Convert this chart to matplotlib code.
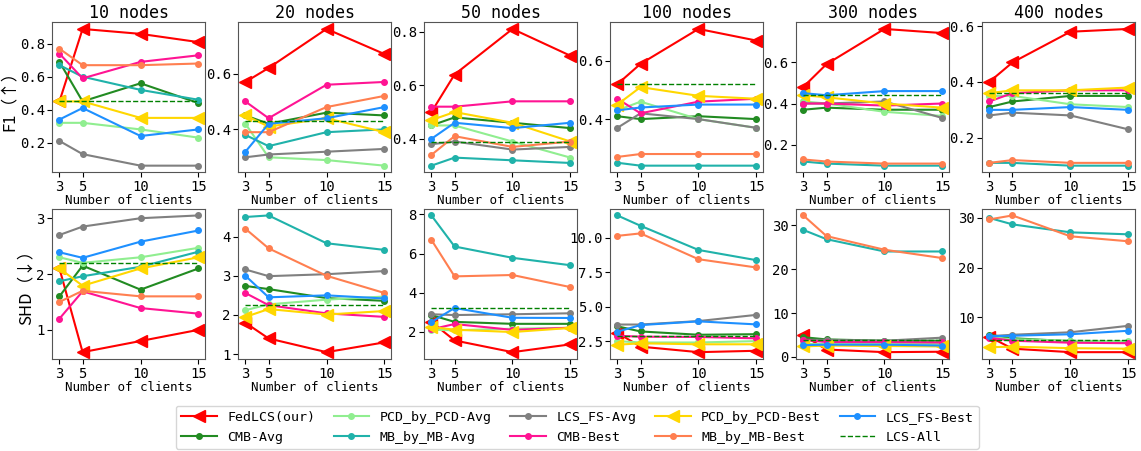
import matplotlib
matplotlib.use("Agg")
import matplotlib.pyplot as plt
from matplotlib.ticker import MultipleLocator

plt.rcParams['font.family'] = ['DejaVu Sans Mono', 'Noto Sans CJK SC']
plt.rcParams['axes.unicode_minus'] = False

clients = [3, 5, 10, 15]
nodes = ['10 nodes', '20 nodes', '50 nodes', '100 nodes', '300 nodes', '400 nodes']

# F1 values, one list per panel (10, 20, 50, 100, 300, 400 nodes)
f1_fedlcs = [[0.45, 0.89, 0.86, 0.81], [0.57, 0.62, 0.76, 0.67], [0.50, 0.64, 0.81, 0.71],
             [0.52, 0.59, 0.71, 0.67], [0.48, 0.59, 0.76, 0.74], [0.40, 0.47, 0.58, 0.59]]
f1_cmb_avg = [[0.69, 0.45, 0.56, 0.44], [0.45, 0.42, 0.46, 0.45], [0.45, 0.48, 0.46, 0.44],
              [0.41, 0.40, 0.41, 0.40], [0.37, 0.38, 0.37, 0.37], [0.31, 0.33, 0.35, 0.35]]
f1_pcd_avg = [[0.32, 0.32, 0.28, 0.23], [0.42, 0.30, 0.29, 0.27], [0.45, 0.45, 0.39, 0.33],
              [0.43, 0.46, 0.40, 0.37], [0.41, 0.40, 0.36, 0.34], [0.35, 0.35, 0.32, 0.31]]
f1_mb_avg = [[0.67, 0.60, 0.52, 0.46], [0.38, 0.34, 0.39, 0.40], [0.30, 0.33, 0.32, 0.31],
             [0.25, 0.24, 0.24, 0.24], [0.12, 0.11, 0.10, 0.10], [0.11, 0.11, 0.10, 0.10]]
f1_lcs_avg = [[0.21, 0.13, 0.06, 0.06], [0.30, 0.31, 0.32, 0.33], [0.38, 0.39, 0.36, 0.37],
              [0.37, 0.42, 0.40, 0.37], [0.40, 0.40, 0.41, 0.33], [0.28, 0.29, 0.28, 0.23]]
f1_cmb_best = [[0.74, 0.59, 0.69, 0.73], [0.50, 0.44, 0.56, 0.57], [0.52, 0.52, 0.54, 0.54],
               [0.47, 0.42, 0.46, 0.47], [0.40, 0.40, 0.39, 0.40], [0.33, 0.36, 0.37, 0.37]]
f1_pcd_best = [[0.45, 0.45, 0.35, 0.35], [0.45, 0.41, 0.44, 0.39], [0.47, 0.50, 0.46, 0.39],
               [0.45, 0.51, 0.48, 0.47], [0.44, 0.43, 0.40, 0.38], [0.36, 0.37, 0.37, 0.38]]
f1_mb_best = [[0.77, 0.67, 0.67, 0.68], [0.39, 0.39, 0.48, 0.52], [0.34, 0.41, 0.37, 0.39],
              [0.27, 0.28, 0.28, 0.28], [0.13, 0.12, 0.11, 0.11], [0.11, 0.12, 0.11, 0.11]]
f1_lcs_best = [[0.34, 0.41, 0.24, 0.28], [0.32, 0.42, 0.44, 0.48], [0.40, 0.46, 0.44, 0.46],
               [0.43, 0.44, 0.45, 0.45], [0.45, 0.44, 0.46, 0.46], [0.30, 0.30, 0.31, 0.30]]
f1_lcs_all = [0.45, 0.43, 0.39, 0.52, 0.44, 0.36]

# SHD values
shd_fedlcs = [[2.1, 0.6, 0.8, 1.0], [1.8, 1.4, 1.05, 1.3], [2.5, 1.55, 0.95, 1.35],
              [3.1, 2.1, 1.7, 1.8], [4.9, 1.7, 1.1, 1.2], [6.1, 3.7, 3.0, 3.0]]
shd_cmb_avg = [[1.6, 2.15, 1.72, 2.1], [2.74, 2.66, 2.43, 2.36], [2.85, 2.5, 2.4, 2.4],
               [3.57, 3.2, 2.96, 3.0], [4.5, 4.0, 3.7, 3.7], [6.5, 5.8, 5.2, 5.1]]
shd_pcd_avg = [[2.3, 2.2, 2.3, 2.47], [2.12, 2.27, 2.39, 2.47], [2.1, 2.07, 2.15, 2.2],
               [2.5, 2.4, 2.4, 2.5], [3.0, 3.0, 3.0, 3.0], [6.0, 5.6, 5.3, 5.2]]
shd_mb_avg = [[1.87, 1.96, 2.13, 2.4], [4.5, 4.54, 3.83, 3.66], [7.95, 6.36, 5.78, 5.4],
              [11.6, 10.85, 9.1, 8.36], [28.9, 26.8, 24.0, 24.0], [30.0, 28.7, 27.1, 26.7]]
shd_lcs_avg = [[2.7, 2.85, 3.0, 3.05], [3.16, 2.99, 3.04, 3.12], [2.89, 2.85, 2.89, 2.94],
               [3.7, 3.7, 3.95, 4.4], [3.9, 3.9, 3.7, 4.4], [6.2, 6.5, 7.0, 8.3]]
shd_cmb_best = [[1.2, 1.69, 1.39, 1.29], [2.56, 2.25, 2.04, 1.95], [2.12, 2.39, 2.09, 2.2],
                [2.89, 2.82, 2.8, 2.7], [3.9, 3.4, 3.4, 3.3], [5.9, 5.3, 4.9, 4.8]]
shd_pcd_best = [[2.1, 1.79, 2.1, 2.3], [1.95, 2.15, 2.01, 2.1], [2.24, 2.1, 1.98, 2.19],
                [2.24, 2.34, 2.27, 2.27], [2.4, 2.6, 2.5, 2.4], [4.0, 4.1, 3.8, 3.7]]
shd_mb_best = [[1.5, 1.7, 1.6, 1.6], [4.2, 3.7, 3.0, 2.56], [6.7, 4.83, 4.9, 4.28],
               [10.12, 10.3, 8.43, 7.83], [32.2, 27.5, 24.4, 22.5], [29.7, 30.5, 26.3, 25.3]]
shd_lcs_best = [[2.39, 2.29, 2.58, 2.78], [3.0, 2.45, 2.5, 2.42], [2.49, 3.21, 2.71, 2.7],
                [3.18, 3.66, 3.93, 3.71], [2.7, 2.8, 2.8, 2.6], [6.2, 6.3, 6.6, 7.3]]
shd_lcs_all = [2.2, 2.25, 3.19, 2.89, 3.8, 5.5]

# y tick steps per panel
f1_steps = [0.2, 0.2, 0.2, 0.2, 0.2, 0.2]
shd_steps = [1, 1, 2, 2.5, 10, 10]

methods = ['FedLCS(our)', 'CMB-Avg', 'PCD_by_PCD-Avg', 'MB_by_MB-Avg', 'LCS_FS-Avg',
           'CMB-Best', 'PCD_by_PCD-Best', 'MB_by_MB-Best', 'LCS_FS-Best']
colors = ['red', 'forestgreen', 'lightgreen', 'lightseagreen', 'gray',
          'deeppink', 'gold', 'coral', 'dodgerblue']
f1_data = [f1_fedlcs, f1_cmb_avg, f1_pcd_avg, f1_mb_avg, f1_lcs_avg,
           f1_cmb_best, f1_pcd_best, f1_mb_best, f1_lcs_best]
shd_data = [shd_fedlcs, shd_cmb_avg, shd_pcd_avg, shd_mb_avg, shd_lcs_avg,
            shd_cmb_best, shd_pcd_best, shd_mb_best, shd_lcs_best]

fig, axes = plt.subplots(2, 6, figsize=(11.41, 4.51), dpi=100)
fig.subplots_adjust(left=0.046, right=0.995, top=0.951, bottom=0.204,
                    wspace=0.216, hspace=0.24)

rows = [(f1_data, f1_lcs_all, f1_steps, 'F1（↑）'),
        (shd_data, shd_lcs_all, shd_steps, 'SHD（↓）')]
for row, (data, lcs_all, steps, ylab) in enumerate(rows):
    for col in range(6):
        ax = axes[row, col]
        for name, c, series in zip(methods, colors, data):
            if name in ('FedLCS(our)', 'PCD_by_PCD-Best'):
                ax.plot(clients, series[col], color=c, marker='<', markersize=8,
                        linewidth=1.5, label=name)
            else:
                ax.plot(clients, series[col], color=c, marker='o', markersize=4,
                        linewidth=1.5, label=name)
        ax.plot(clients, [lcs_all[col]] * len(clients), color='green',
                linestyle='--', linewidth=1, label='LCS-All')
        ax.set_xticks(clients)
        ax.yaxis.set_major_locator(MultipleLocator(steps[col]))
        ax.tick_params(labelsize=10, pad=2)
        ax.set_xlabel('Number of clients', fontsize=9, labelpad=0)
        for s in ax.spines.values():
            s.set_color('#555555')
        if row == 0:
            ax.set_title(nodes[col], fontsize=12, pad=3)
        if col == 0:
            ax.set_ylabel(ylab, fontsize=12, labelpad=1,
                          family=['Noto Sans CJK SC', 'DejaVu Sans'])

handles, labels = axes[0, 0].get_legend_handles_labels()
fig.legend(handles, labels, loc='lower center', bbox_to_anchor=(0.506, -0.01),
           ncol=5, fontsize=9.5, handlelength=2.7, columnspacing=1.4, frameon=True)

plt.savefig('out.png')
